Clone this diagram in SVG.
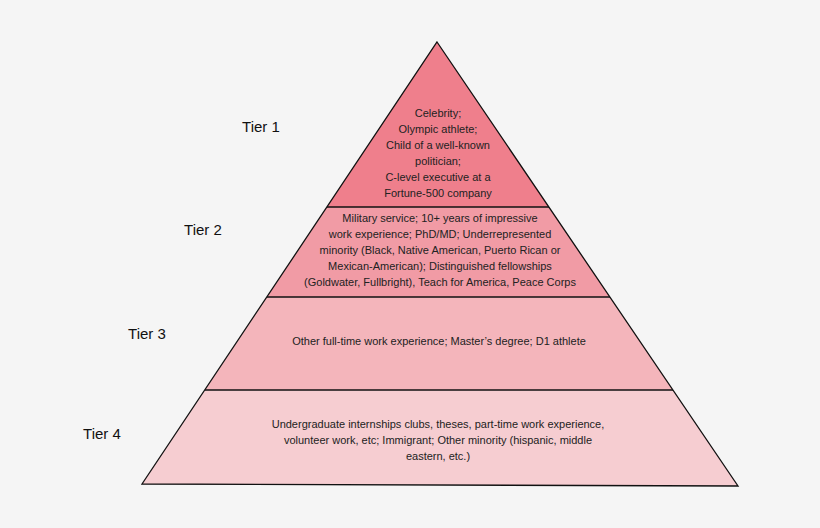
<svg xmlns="http://www.w3.org/2000/svg" width="820" height="528" viewBox="0 0 820 528">
<style>
.t{font-family:"Liberation Sans",Arial,sans-serif;font-size:11px;fill:#222;text-anchor:middle}
.lab{font-family:"Liberation Sans",Arial,sans-serif;font-size:15px;fill:#111;text-anchor:middle}
.ln{stroke:#111;stroke-width:1.3}
</style>
<rect width="820" height="528" fill="#f5f5f5"/>
<g id="tier1"><polygon points="437,42 327,207 549,207" fill="#ef7f8c"/>
<text class="t"><tspan x="438" y="117">Celebrity;</tspan><tspan x="438" y="133">Olympic athlete;</tspan><tspan x="438" y="149">Child of a well-known</tspan><tspan x="438" y="165">politician;</tspan><tspan x="438" y="181">C-level executive at a</tspan><tspan x="438" y="197">Fortune-500 company</tspan></text>
<text class="lab" x="261" y="132">Tier 1</text></g>
<g id="tier2"><polygon points="327,207 549,207 610,297 267,297" fill="#f19ba5"/>
<text class="t"><tspan x="440" y="222">Military service; 10+ years of impressive</tspan><tspan x="440" y="238">work experience; PhD/MD; Underrepresented</tspan><tspan x="440" y="254">minority (Black, Native American, Puerto Rican or</tspan><tspan x="440" y="270">Mexican-American); Distinguished fellowships</tspan><tspan x="440" y="286">(Goldwater, Fullbright), Teach for America, Peace Corps</tspan></text>
<text class="lab" x="203" y="235">Tier 2</text></g>
<g id="tier3"><polygon points="267,297 610,297 673,390 205,390" fill="#f4b5bb"/>
<text class="t" x="439" y="345">Other full-time work experience; Master’s degree; D1 athlete</text>
<text class="lab" x="147" y="339">Tier 3</text></g>
<g id="tier4"><polygon points="205,390 673,390 738,486 142,484" fill="#f6cdd1"/>
<text class="t"><tspan x="438" y="428">Undergraduate internships clubs, theses, part-time work experience,</tspan><tspan x="438" y="444">volunteer work, etc; Immigrant; Other minority (hispanic, middle</tspan><tspan x="438" y="460">eastern, etc.)</tspan></text>
<text class="lab" x="102" y="439">Tier 4</text></g>
<g id="connectors" fill="none">
<polygon points="437,42 738,486 142,484" class="ln" stroke-width="2.2" stroke-linejoin="miter"/>
<line class="ln" x1="327" y1="207" x2="549" y2="207"/>
<line class="ln" x1="267" y1="297" x2="610" y2="297"/>
<line class="ln" x1="205" y1="390" x2="673" y2="390"/>
</g>
</svg>
